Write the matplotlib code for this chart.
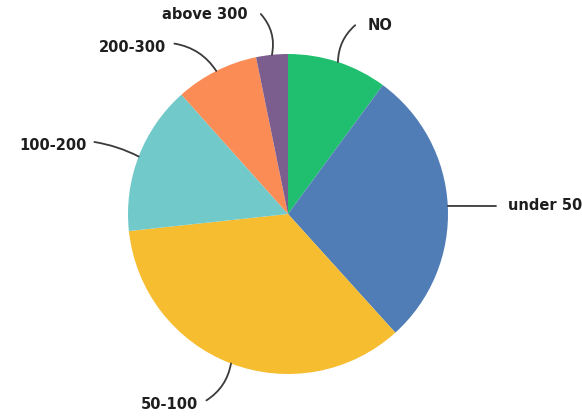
import math
import matplotlib
matplotlib.use('Agg')
import matplotlib.pyplot as plt

# share of each group, in percent
labels = ['NO', 'under 50', '50-100', '100-200', '200-300', 'above 300']
shares = [10.1, 28.2, 35.0, 15.1, 8.4, 3.2]
colors = ['#20bf6f', '#517db6', '#f6bd30', '#71c9ca', '#fc8c56', '#7c5e8e']

# where each label sits (axes data units, pie radius = 1)
label_xy = {
    'NO': (0.50, 1.175),
    'under 50': (1.375, 0.05),
    '50-100': (-0.56, -1.19),
    '100-200': (-1.26, 0.43),
    '200-300': (-0.76, 1.04),
    'above 300': (-0.25, 1.245),
}
leader_end = {
    'NO': (0.42, 1.18),
    'under 50': (1.30, 0.05),
    '50-100': (-0.51, -1.165),
    '100-200': (-1.21, 0.45),
    '200-300': (-0.71, 1.065),
    'above 300': (-0.17, 1.25),
}
leader_rad = {
    'NO': 0.22, 'under 50': 0.0, '50-100': 0.22,
    '100-200': -0.08, '200-300': -0.22, 'above 300': -0.25,
}

fig = plt.figure(figsize=(5.82, 4.16), dpi=100)
ax = fig.add_axes([128 / 582., 42 / 416., 320 / 582., 320 / 416.])
wedges, _ = ax.pie(shares, colors=colors, startangle=90, counterclock=False,
                   radius=1, wedgeprops=dict(linewidth=0))
ax.set_xlim(-1, 1)
ax.set_ylim(-1, 1)
ax.set_aspect('equal')
ax.axis('off')

for w, lab in zip(wedges, labels):
    mid = math.radians((w.theta1 + w.theta2) / 2.)
    start = (math.cos(mid), math.sin(mid))
    tx, ty = label_xy[lab]
    ha = 'left' if tx > 0 else 'right'
    ax.annotate('', xy=start, xytext=leader_end[lab], annotation_clip=False,
                arrowprops=dict(arrowstyle='-', color='#3a3a3a', lw=1.3,
                                shrinkA=0, shrinkB=0,
                                connectionstyle='arc3,rad=%g' % leader_rad[lab]))
    ax.text(tx, ty, lab, ha=ha, va='center', fontsize=10.5,
            fontweight='bold', color='#1e1e1e', clip_on=False)

fig.savefig('out.png')
